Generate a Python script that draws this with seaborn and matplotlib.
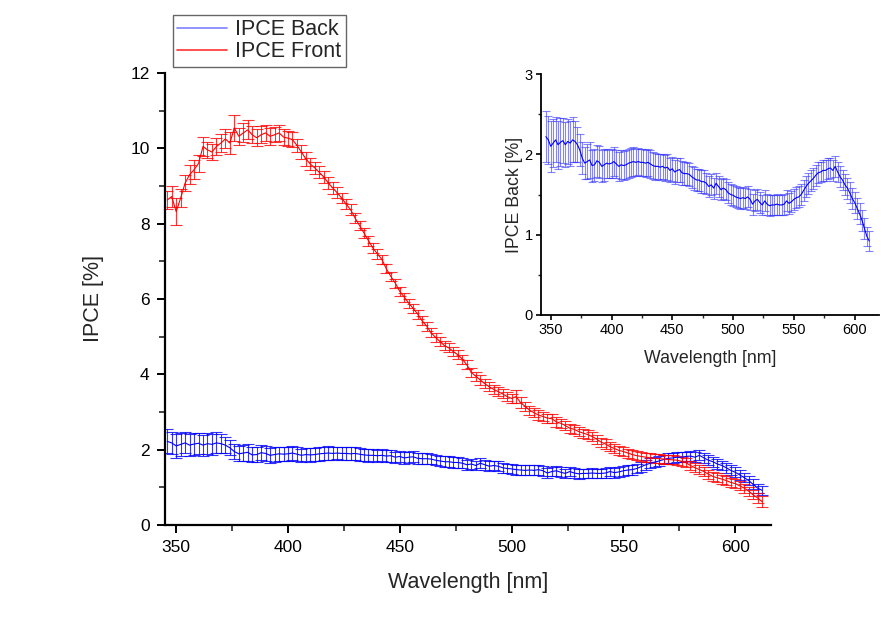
import numpy as np
import pandas as pd
import matplotlib
matplotlib.use("Agg")
import matplotlib.pyplot as plt
from matplotlib.lines import Line2D
from matplotlib.ticker import MultipleLocator
import seaborn as sns

# ---------------- data ----------------
wavelength = list(range(346, 614, 2))

ipce_front = [
    8.63, 8.72, 8.32, 8.68, 9.08, 9.30, 9.43, 9.60, 10.05, 9.96,
    9.90, 10.05, 10.14, 10.25, 10.14, 10.54, 10.32, 10.41, 10.49, 10.36,
    10.28, 10.36, 10.41, 10.32, 10.36, 10.41, 10.30, 10.27, 10.23, 10.08,
    9.90, 9.72, 9.58, 9.48, 9.36, 9.24, 9.08, 8.95, 8.82, 8.68,
    8.52, 8.37, 8.15, 7.95, 7.75, 7.55, 7.35, 7.20, 7.05, 6.80,
    6.60, 6.42, 6.20, 6.05, 5.89, 5.75, 5.60, 5.42, 5.28, 5.10,
    4.98, 4.87, 4.76, 4.70, 4.60, 4.52, 4.40, 4.25, 4.05, 3.95,
    3.85, 3.75, 3.67, 3.60, 3.54, 3.48, 3.41, 3.36, 3.41, 3.25,
    3.15, 3.05, 2.98, 2.92, 2.88, 2.84, 2.82, 2.74, 2.70, 2.64,
    2.57, 2.54, 2.48, 2.44, 2.40, 2.35, 2.28, 2.20, 2.15, 2.08,
    2.03, 1.98, 1.95, 1.91, 1.87, 1.84, 1.82, 1.80, 1.78, 1.77,
    1.76, 1.75, 1.74, 1.73, 1.72, 1.69, 1.65, 1.58, 1.52, 1.47,
    1.42, 1.35, 1.29, 1.25, 1.22, 1.18, 1.13, 1.10, 1.04, 0.98,
    0.90, 0.80, 0.72, 0.62,
]

front_err = [
    0.25, 0.28, 0.35, 0.25, 0.22, 0.25, 0.25, 0.22, 0.25, 0.22,
    0.22, 0.22, 0.25, 0.25, 0.30, 0.35, 0.22, 0.25, 0.25, 0.22,
    0.22, 0.22, 0.22, 0.22, 0.20, 0.22, 0.20, 0.20, 0.20, 0.18,
    0.18, 0.18, 0.16, 0.16, 0.16, 0.15, 0.15, 0.15, 0.15, 0.14,
    0.14, 0.14, 0.13, 0.13, 0.13, 0.13, 0.13, 0.13, 0.12, 0.12,
    0.12, 0.12, 0.12, 0.12, 0.12, 0.12, 0.12, 0.12, 0.12, 0.12,
    0.12, 0.12, 0.12, 0.12, 0.12, 0.12, 0.12, 0.12, 0.12, 0.12,
    0.12, 0.12, 0.12, 0.12, 0.12, 0.12, 0.12, 0.12, 0.18, 0.14,
    0.12, 0.12, 0.12, 0.12, 0.12, 0.12, 0.12, 0.14, 0.12, 0.12,
    0.12, 0.12, 0.12, 0.12, 0.12, 0.12, 0.12, 0.12, 0.12, 0.12,
    0.12, 0.12, 0.12, 0.12, 0.12, 0.12, 0.12, 0.12, 0.12, 0.12,
    0.12, 0.12, 0.12, 0.12, 0.12, 0.12, 0.12, 0.12, 0.12, 0.12,
    0.12, 0.12, 0.12, 0.12, 0.12, 0.12, 0.12, 0.12, 0.12, 0.12,
    0.12, 0.12, 0.14, 0.14,
]

ipce_back = [
    2.22, 2.18, 2.10, 2.14, 2.18, 2.12, 2.15, 2.17, 2.12, 2.16,
    2.14, 2.18, 2.16, 2.12, 2.05, 1.95, 1.89, 1.91, 1.93, 1.86,
    1.87, 1.92, 1.90, 1.85, 1.87, 1.89, 1.88, 1.89, 1.91, 1.88,
    1.85, 1.87, 1.86, 1.87, 1.89, 1.90, 1.91, 1.90, 1.91, 1.90,
    1.90, 1.89, 1.90, 1.88, 1.86, 1.85, 1.85, 1.84, 1.85, 1.83,
    1.84, 1.80, 1.82, 1.78, 1.80, 1.81, 1.77, 1.76, 1.76, 1.75,
    1.72, 1.70, 1.68, 1.68, 1.66, 1.66, 1.64, 1.60, 1.62, 1.58,
    1.64, 1.60, 1.56, 1.58, 1.56, 1.52, 1.50, 1.49, 1.47, 1.46,
    1.45, 1.46, 1.45, 1.47, 1.44, 1.38, 1.42, 1.44, 1.40, 1.37,
    1.42, 1.38, 1.36, 1.37, 1.37, 1.38, 1.37, 1.37, 1.38, 1.42,
    1.39, 1.41, 1.44, 1.46, 1.47, 1.50, 1.55, 1.60, 1.64, 1.67,
    1.70, 1.74, 1.77, 1.78, 1.80, 1.80, 1.82, 1.83, 1.80, 1.85,
    1.78, 1.72, 1.68, 1.62, 1.58, 1.52, 1.45, 1.40, 1.33, 1.26,
    1.18, 1.08, 0.98, 0.92,
]

back_err = [
    0.32, 0.30, 0.32, 0.30, 0.28, 0.30, 0.30, 0.28, 0.28, 0.28,
    0.28, 0.28, 0.25, 0.22, 0.20, 0.20, 0.20, 0.22, 0.22, 0.20,
    0.20, 0.20, 0.20, 0.20, 0.20, 0.18, 0.18, 0.18, 0.18, 0.18,
    0.18, 0.18, 0.18, 0.18, 0.18, 0.18, 0.18, 0.17, 0.17, 0.17,
    0.17, 0.17, 0.17, 0.17, 0.17, 0.17, 0.16, 0.16, 0.16, 0.16,
    0.16, 0.15, 0.15, 0.15, 0.15, 0.15, 0.15, 0.14, 0.14, 0.14,
    0.14, 0.14, 0.14, 0.14, 0.14, 0.14, 0.13, 0.13, 0.13, 0.13,
    0.13, 0.13, 0.13, 0.13, 0.13, 0.13, 0.13, 0.13, 0.13, 0.13,
    0.13, 0.13, 0.13, 0.13, 0.13, 0.13, 0.13, 0.13, 0.13, 0.13,
    0.13, 0.13, 0.13, 0.13, 0.13, 0.13, 0.13, 0.13, 0.13, 0.13,
    0.13, 0.13, 0.13, 0.13, 0.13, 0.13, 0.13, 0.13, 0.13, 0.13,
    0.13, 0.13, 0.13, 0.13, 0.13, 0.13, 0.13, 0.13, 0.13, 0.13,
    0.13, 0.13, 0.13, 0.13, 0.13, 0.13, 0.13, 0.13, 0.13, 0.13,
    0.13, 0.13, 0.12, 0.12,
]

series_labels = ["IPCE Back", "IPCE Front"]
x_label = "Wavelength [nm]"
y_label_main = "IPCE [%]"
y_label_inset = "IPCE Back [%]"

df = pd.DataFrame({
    "wavelength": wavelength,
    "front": ipce_front,
    "front_err": front_err,
    "back": ipce_back,
    "back_err": back_err,
})

# ---------------- style ----------------
sns.set_theme(style="ticks")
plt.rcParams["font.family"] = ["Liberation Sans", "DejaVu Sans"]

BLUE = "#0000ff"
RED = "#ff0000"

fig = plt.figure(figsize=(8.81, 6.23), dpi=100)
fig.patch.set_facecolor("white")

# main axes
ax = fig.add_axes([165 / 881, 1 - 525 / 623, (771 - 165) / 881, (525 - 73) / 623])
ax.set_facecolor("white")

ax.errorbar(df["wavelength"], df["back"], yerr=df["back_err"], fmt="none",
            ecolor=BLUE, elinewidth=0.8, capsize=4.5, capthick=0.8, alpha=0.8)
ax.errorbar(df["wavelength"], df["front"], yerr=df["front_err"], fmt="none",
            ecolor=RED, elinewidth=0.8, capsize=4.5, capthick=0.8, alpha=0.8)
sns.lineplot(data=df, x="wavelength", y="back", ax=ax, color=BLUE, lw=0.8)
sns.lineplot(data=df, x="wavelength", y="front", ax=ax, color=RED, lw=0.8)

ax.set_xlim(345, 616)
ax.set_ylim(0, 12)
ax.xaxis.set_major_locator(MultipleLocator(50))
ax.xaxis.set_minor_locator(MultipleLocator(25))
ax.yaxis.set_major_locator(MultipleLocator(2))
ax.yaxis.set_minor_locator(MultipleLocator(1))
for s in ["top", "right"]:
    ax.spines[s].set_visible(False)
for s in ["left", "bottom"]:
    ax.spines[s].set_linewidth(1.6)
    ax.spines[s].set_color("black")
ax.tick_params(axis="both", which="major", direction="out", length=6, width=1.4,
               labelsize=12.5, colors="black", pad=5)
ax.tick_params(axis="both", which="minor", direction="out", length=4, width=1.2)
ax.set_xlabel(x_label, fontsize=15.5, labelpad=12)
ax.set_ylabel(y_label_main, fontsize=15.5, labelpad=19)

# legend (figure level)
handles = [Line2D([], [], color="#8080ff", lw=1.2),
           Line2D([], [], color="#ff3030", lw=1.2)]
leg = fig.legend(handles, series_labels, loc="upper left",
                 bbox_to_anchor=(173 / 881, 1 - 15 / 623), fontsize=15.5,
                 frameon=True, fancybox=False, framealpha=1, edgecolor="#666666",
                 handlelength=2.3, handletextpad=0.4, labelspacing=0.05,
                 borderpad=0.2, borderaxespad=0)
leg.get_frame().set_linewidth(1.0)

# inset axes
axin = fig.add_axes([541 / 881, 1 - 315 / 623, (879 - 541) / 881, (315 - 74) / 623])
axin.set_facecolor("white")
axin.errorbar(df["wavelength"], df["back"], yerr=df["back_err"], fmt="none",
              ecolor="#3333ff", elinewidth=0.8, capsize=3, capthick=0.8, alpha=0.6)
sns.lineplot(data=df, x="wavelength", y="back", ax=axin, color=BLUE, lw=0.8)
axin.set_xlim(342, 620)
axin.set_ylim(0, 3)
axin.xaxis.set_major_locator(MultipleLocator(50))
axin.xaxis.set_minor_locator(MultipleLocator(25))
axin.yaxis.set_major_locator(MultipleLocator(1))
axin.yaxis.set_minor_locator(MultipleLocator(0.5))
for s in ["top", "right"]:
    axin.spines[s].set_visible(False)
for s in ["left", "bottom"]:
    axin.spines[s].set_linewidth(1.3)
    axin.spines[s].set_color("black")
axin.tick_params(axis="both", which="major", direction="out", length=3.5, width=1.2,
                 labelsize=10.5, colors="black", pad=2.5)
axin.tick_params(axis="both", which="minor", direction="out", length=2.5, width=1.0)
axin.set_xlabel(x_label, fontsize=12.8, labelpad=9)
axin.set_ylabel(y_label_inset, fontsize=12.8, labelpad=1)

fig.savefig("out.png", dpi=100, facecolor="white")
